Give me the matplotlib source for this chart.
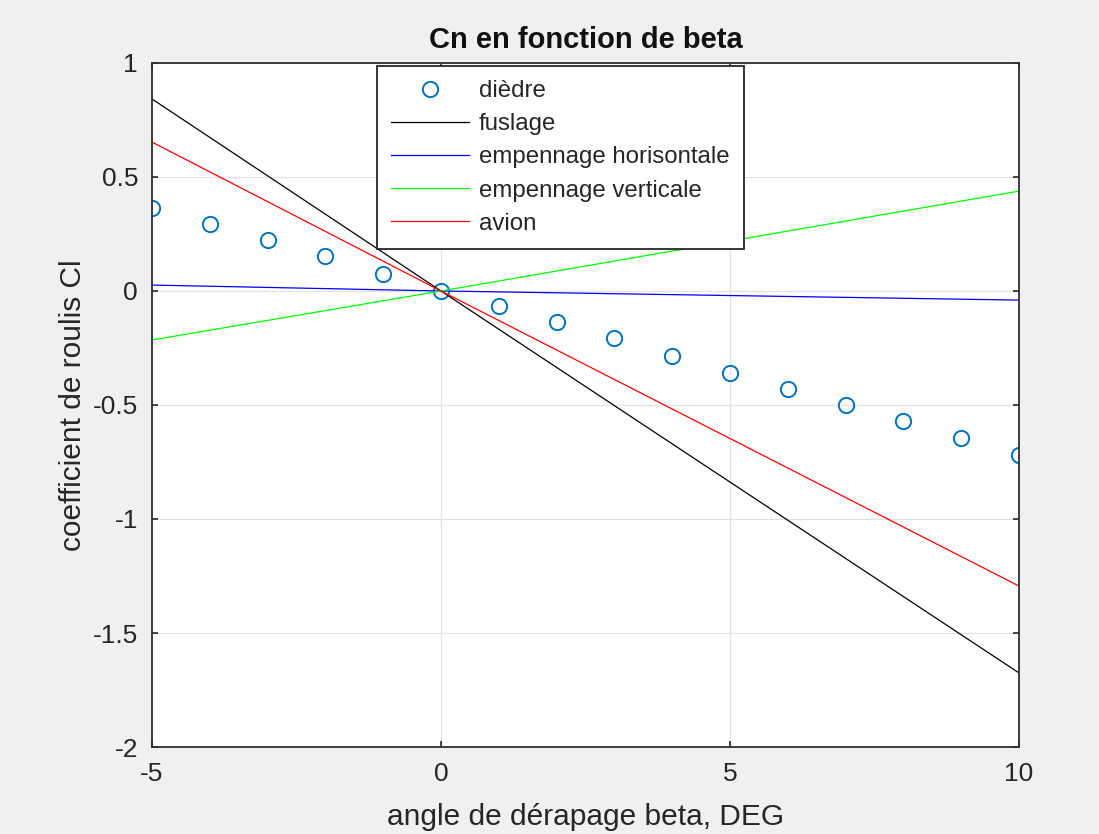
import numpy as np
import matplotlib.pyplot as plt

# angle de derapage (deg)
beta_pts = [-5, -4, -3, -2, -1, 0, 1, 2, 3, 4, 5, 6, 7, 8, 9, 10]
diedre = [0.364, 0.292, 0.224, 0.154, 0.073, 0.0, -0.068, -0.138, -0.208,
          -0.285, -0.360, -0.430, -0.498, -0.570, -0.645, -0.720]

beta_lin = [-5, 0, 5, 10]
fuselage = [0.842, 0.0, -0.838, -1.675]
emp_horiz = [0.026, 0.0, -0.020, -0.040]
emp_vert = [-0.215, 0.0, 0.219, 0.438]
avion = [0.653, 0.0, -0.647, -1.294]

plt.rcParams['font.family'] = ['Liberation Sans', 'DejaVu Sans']
txt = '#262626'

fig = plt.figure(figsize=(10.99, 8.34), dpi=100, facecolor='#f0f0f0')
ax = fig.add_axes([0.1383, 0.1043, 0.7889, 0.8202])

ax.plot(beta_pts, diedre, 'o', mfc='none', mec='#0072BD', ms=11, mew=1.4, label='dièdre')
ax.plot(beta_lin, fuselage, color='black', lw=0.9, label='fuslage')
ax.plot(beta_lin, emp_horiz, color='blue', lw=0.9, label='empennage horisontale')
ax.plot(beta_lin, emp_vert, color='#00ff00', lw=0.9, label='empennage verticale')
ax.plot(beta_lin, avion, color='red', lw=0.9, label='avion')

ax.set_xlim(-5, 10)
ax.set_ylim(-2, 1)
ax.set_xticks([-5, 0, 5, 10])
ax.set_yticks(np.arange(-2, 1.01, 0.5))
ax.set_yticklabels(['-2', '-1.5', '-1', '-0.5', '0', '0.5', '1'])
ax.set_xticklabels(['-5', '0', '5', '10'])
ax.grid(True, color='#e3e3e3', lw=0.9)
ax.set_axisbelow(True)
ax.tick_params(direction='in', top=True, right=True, length=4, width=1.2,
               colors=txt, labelsize=19)
ax.tick_params(axis='y', pad=10)
ax.tick_params(axis='x', pad=11)
for s in ax.spines.values():
    s.set_color('#303030')
    s.set_linewidth(1.3)

ax.set_title('Cn en fonction de beta', fontsize=21, fontweight='bold', color='#111111', pad=11)
ax.set_xlabel('angle de dérapage beta, DEG', fontsize=21.5, color=txt, labelpad=12)
ax.set_ylabel('coefficient de roulis Cl', fontsize=21.5, color=txt, labelpad=4)

leg = ax.legend(loc='upper left', bbox_to_anchor=(0.2595, 0.9956), fontsize=17.3,
                frameon=True, fancybox=False, framealpha=1, edgecolor='#262626',
                handlelength=3.25, handletextpad=0.4, borderpad=0.6,
                labelspacing=0.46, borderaxespad=0)
leg.get_frame().set_linewidth(1.3)
for t in leg.get_texts():
    t.set_color(txt)

fig.savefig('out.png', dpi=100, facecolor=fig.get_facecolor())
